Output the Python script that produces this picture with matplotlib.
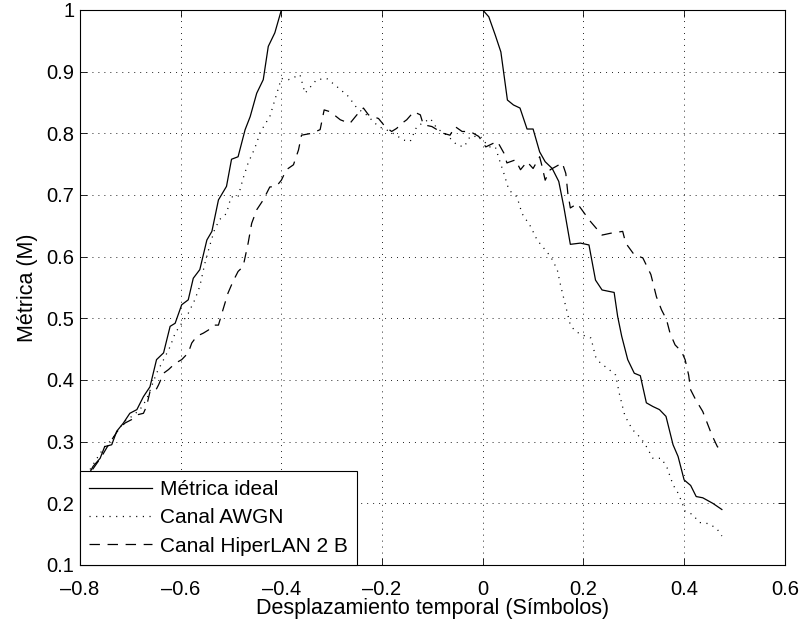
import matplotlib
matplotlib.use("Agg")
import matplotlib.pyplot as plt

plt.rcParams['font.family'] = ['Liberation Sans', 'DejaVu Sans']
plt.rcParams['lines.scale_dashes'] = False

# Métrica ideal
x_ideal = [-0.787, -0.774, -0.760, -0.751, -0.737, -0.727, -0.714, -0.701, -0.687, -0.674,
           -0.661, -0.648, -0.634, -0.621, -0.611, -0.598, -0.585, -0.575, -0.562, -0.548,
           -0.538, -0.525, -0.509, -0.499, -0.486, -0.472, -0.462, -0.449, -0.436, -0.426,
           -0.413, -0.400, 0.000, 0.012, 0.025, 0.036, 0.049, 0.061, 0.074, 0.088,
           0.100, 0.113, 0.124, 0.138, 0.151, 0.161, 0.174, 0.194, 0.211, 0.224,
           0.237, 0.261, 0.268, 0.276, 0.288, 0.301, 0.313, 0.325, 0.338, 0.351,
           0.364, 0.378, 0.388, 0.400, 0.413, 0.424, 0.437, 0.457, 0.475]
y_ideal = [0.240, 0.260, 0.273, 0.292, 0.295, 0.317, 0.330, 0.346, 0.352, 0.373,
           0.389, 0.433, 0.444, 0.487, 0.492, 0.522, 0.530, 0.565, 0.579, 0.627,
           0.641, 0.692, 0.714, 0.758, 0.762, 0.806, 0.827, 0.865, 0.887, 0.941,
           0.963, 1.000, 1.000, 0.989, 0.959, 0.932, 0.854, 0.846, 0.841, 0.807,
           0.807, 0.770, 0.754, 0.743, 0.722, 0.681, 0.620, 0.622, 0.619, 0.562,
           0.546, 0.542, 0.503, 0.471, 0.433, 0.411, 0.407, 0.363, 0.357, 0.352,
           0.341, 0.295, 0.276, 0.238, 0.229, 0.211, 0.209, 0.200, 0.190]

# Canal AWGN
x_awgn = [-0.780, -0.764, -0.751, -0.737, -0.724, -0.711, -0.697, -0.681, -0.668, -0.658,
          -0.648, -0.634, -0.621, -0.611, -0.598, -0.585, -0.572, -0.562, -0.552, -0.543,
          -0.533, -0.523, -0.509, -0.500, -0.486, -0.476, -0.466, -0.456, -0.449, -0.443,
          -0.433, -0.423, -0.413, -0.406, -0.400, -0.386, -0.363, -0.353, -0.330, -0.310,
          -0.290, -0.267, -0.250, -0.231, -0.207, -0.184, -0.157, -0.144, -0.131, -0.104,
          -0.091, -0.071, -0.051, -0.037, -0.025, -0.005, 0.012, 0.025, 0.035, 0.042,
          0.052, 0.068, 0.078, 0.095, 0.108, 0.121, 0.135, 0.148, 0.155, 0.165,
          0.174, 0.184, 0.198, 0.215, 0.224, 0.234, 0.248, 0.264, 0.271, 0.281,
          0.288, 0.298, 0.308, 0.321, 0.338, 0.355, 0.366, 0.378, 0.387, 0.395,
          0.402, 0.417, 0.430, 0.449, 0.465, 0.475]
y_awgn = [0.255, 0.276, 0.292, 0.303, 0.319, 0.333, 0.341, 0.352, 0.368, 0.389,
          0.411, 0.433, 0.454, 0.476, 0.492, 0.508, 0.530, 0.552, 0.589, 0.616,
          0.643, 0.660, 0.670, 0.697, 0.697, 0.727, 0.752, 0.770, 0.784, 0.800,
          0.814, 0.827, 0.854, 0.873, 0.889, 0.887, 0.895, 0.865, 0.887, 0.889,
          0.876, 0.860, 0.841, 0.830, 0.811, 0.803, 0.789, 0.787, 0.811, 0.824,
          0.808, 0.797, 0.781, 0.778, 0.795, 0.795, 0.778, 0.778, 0.752, 0.735,
          0.708, 0.697, 0.670, 0.649, 0.627, 0.614, 0.600, 0.579, 0.552, 0.519,
          0.489, 0.479, 0.473, 0.468, 0.438, 0.427, 0.419, 0.408, 0.379, 0.346,
          0.333, 0.319, 0.311, 0.298, 0.273, 0.273, 0.258, 0.230, 0.218, 0.203,
          0.187, 0.182, 0.169, 0.167, 0.159, 0.147]

# Canal HiperLAN 2 B
x_hiper = [-0.775, -0.757, -0.747, -0.737, -0.724, -0.711, -0.697, -0.684, -0.674, -0.668,
           -0.661, -0.651, -0.644, -0.634, -0.624, -0.611, -0.598, -0.585, -0.578, -0.568,
           -0.555, -0.545, -0.535, -0.525, -0.516, -0.506, -0.496, -0.486, -0.476, -0.466,
           -0.459, -0.449, -0.436, -0.423, -0.410, -0.400, -0.390, -0.376, -0.366, -0.360,
           -0.340, -0.323, -0.315, -0.303, -0.283, -0.264, -0.250, -0.237, -0.227, -0.207,
           -0.194, -0.181, -0.171, -0.161, -0.151, -0.137, -0.124, -0.118, -0.101, -0.091,
           -0.078, -0.065, -0.055, -0.041, -0.025, -0.008, 0.006, 0.029, 0.042, 0.048,
           0.065, 0.075, 0.088, 0.100, 0.113, 0.118, 0.124, 0.134, 0.158, 0.165,
           0.169, 0.174, 0.188, 0.204, 0.214, 0.237, 0.254, 0.278, 0.284, 0.301,
           0.318, 0.334, 0.345, 0.355, 0.365, 0.372, 0.382, 0.395, 0.402, 0.409,
           0.413, 0.423, 0.437, 0.446, 0.455, 0.466, 0.475]
y_hiper = [0.255, 0.276, 0.290, 0.303, 0.319, 0.330, 0.336, 0.344, 0.346, 0.357,
           0.381, 0.381, 0.392, 0.411, 0.417, 0.427, 0.433, 0.444, 0.460, 0.471,
           0.476, 0.481, 0.489, 0.489, 0.514, 0.541, 0.560, 0.576, 0.584, 0.622,
           0.654, 0.676, 0.692, 0.713, 0.714, 0.724, 0.741, 0.749, 0.773, 0.797,
           0.800, 0.806, 0.838, 0.835, 0.822, 0.816, 0.830, 0.841, 0.830, 0.824,
           0.811, 0.803, 0.808, 0.816, 0.822, 0.835, 0.830, 0.814, 0.811, 0.806,
           0.800, 0.797, 0.811, 0.803, 0.803, 0.795, 0.778, 0.787, 0.768, 0.752,
           0.757, 0.741, 0.754, 0.743, 0.762, 0.746, 0.724, 0.741, 0.752, 0.735,
           0.703, 0.679, 0.686, 0.668, 0.657, 0.635, 0.638, 0.641, 0.622, 0.603,
           0.598, 0.571, 0.535, 0.514, 0.498, 0.476, 0.457, 0.446, 0.433, 0.408,
           0.384, 0.368, 0.349, 0.330, 0.311, 0.292, 0.285]

labels = ['Métrica ideal', 'Canal AWGN', 'Canal HiperLAN 2 B']
x_ticks = [-0.8, -0.6, -0.4, -0.2, 0, 0.2, 0.4, 0.6]
y_ticks = [0.1, 0.2, 0.3, 0.4, 0.5, 0.6, 0.7, 0.8, 0.9, 1]

fig = plt.figure(figsize=(8, 6.25), dpi=100)
ax = fig.add_axes([0.1, 0.096, 0.881, 0.888])

ax.plot(x_ideal, y_ideal, color='black', lw=0.9, linestyle='-', label=labels[0])
ax.plot(x_awgn, y_awgn, color='black', lw=0.9, linestyle=(0, (0.8, 4.0)), label=labels[1])
ax.plot(x_hiper, y_hiper, color='black', lw=0.9, linestyle=(0, (7.5, 5.5)), label=labels[2])

ax.set_xlim(-0.8, 0.6)
ax.set_ylim(0.1, 1)
ax.set_xticks(x_ticks)
ax.set_yticks(y_ticks)
# MATLAB style long dash for negatives
ax.set_xticklabels([('%g' % t).replace('-', '\u2013') for t in x_ticks])
ax.set_yticklabels(['%g' % t for t in y_ticks])
ax.tick_params(direction='in', top=True, right=True, length=5, width=0.6, labelsize=14.5)
ax.tick_params(axis='x', pad=11)
ax.tick_params(axis='y', pad=4)
for s in ax.spines.values():
    s.set_linewidth(0.8)

ax.grid(True, color='black', linestyle=(0, (0.7, 3.6)), lw=0.6)
ax.set_xlabel('Desplazamiento temporal (Símbolos)', fontsize=15.5, labelpad=-1)
ax.set_ylabel('Métrica (M)', fontsize=15.5, labelpad=6)

leg = ax.legend(loc='lower left', fontsize=15, frameon=True, fancybox=False,
                edgecolor='black', framealpha=1, borderaxespad=0, borderpad=0.45,
                handlelength=3.0, handletextpad=0.38, labelspacing=0.45)
leg.get_frame().set_linewidth(0.8)

fig.savefig('out.png', dpi=100)
